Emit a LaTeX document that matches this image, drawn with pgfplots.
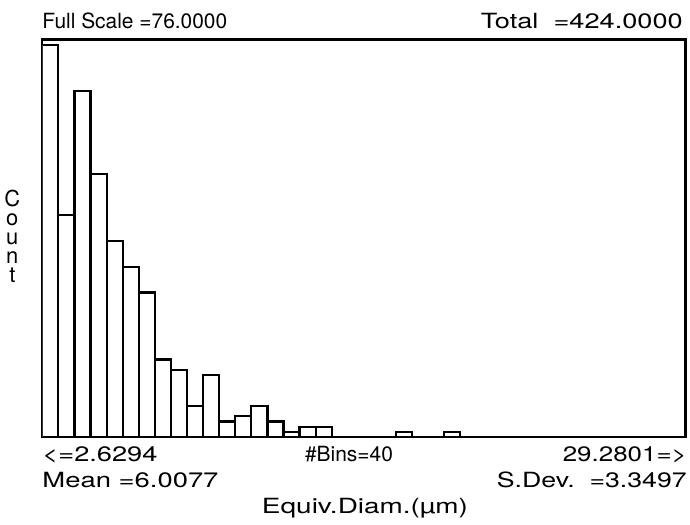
\documentclass[border=0pt]{standalone}
\usepackage{pgfplots}
\pgfplotsset{compat=1.18}
\usepackage{fontspec}
\setmainfont{TeX Gyre Heros}
\begin{document}
\begin{tikzpicture}[x=1bp,y=1bp]
\useasboundingbox (-42.3,-88) rectangle (647.7,437);
\begin{axis}[
  at={(0,0)}, anchor=south west,
  scale only axis, width=643.2bp, height=397.5bp,
  xmin=0, xmax=40, ymin=0, ymax=77,
  enlargelimits=false,
  xtick=\empty, ytick=\empty,
  axis line style={line width=2.4bp},
  ybar, bar width=1, bar shift=0pt,
]
\addplot[draw=black, fill=white, line width=2.2bp] coordinates {
(0.5,76) (1.5,43) (2.5,67) (3.5,51) (4.5,38) (5.5,33) (6.5,28) (7.5,15)
(8.5,13) (9.5,6) (10.5,12) (11.5,3) (12.5,4) (13.5,6) (14.5,3) (15.5,1)
(16.5,2) (17.5,2) (18.5,0) (19.5,0) (20.5,0) (21.5,0) (22.5,1) (23.5,0)
(24.5,0) (25.5,1) (26.5,0) (27.5,0) (28.5,0) (29.5,0) (30.5,0) (31.5,0)
(32.5,0) (33.5,0) (34.5,0) (35.5,0) (36.5,0) (37.5,0) (38.5,0) (39.5,0)
};
\end{axis}
\begin{scope}[every node/.style={inner sep=0pt, font=\fontsize{21}{21}\selectfont}]
\node[anchor=base west] at (0,408.5) {Full Scale =76.0000};
\node[anchor=base east] at (640.7,408) {\resizebox{202bp}{\height}{Total\ \ =424.0000}};
\node[anchor=base west] at (0,-25) {\resizebox{115bp}{\height}{<=2.6294}};
\node[anchor=base] at (306.7,-25) {\resizebox{88bp}{\height}{\#Bins=40}};
\node[anchor=base east] at (644.7,-25) {\resizebox{124bp}{\height}{29.2801=>}};
\node[anchor=base west] at (0,-51) {\resizebox{176bp}{\height}{Mean =6.0077}};
\node[anchor=base east] at (644.7,-51) {\resizebox{190bp}{\height}{S.Dev.\ \ =3.3497}};
\node[anchor=base] at (322.7,-77) {\resizebox{206bp}{\height}{Equiv.Diam.(µm)}};
\node[anchor=north, align=center, font=\fontsize{22}{19}\selectfont] at (-30,247) {C\\o\\u\\n\\t};
\end{scope}
\end{tikzpicture}
\end{document}
